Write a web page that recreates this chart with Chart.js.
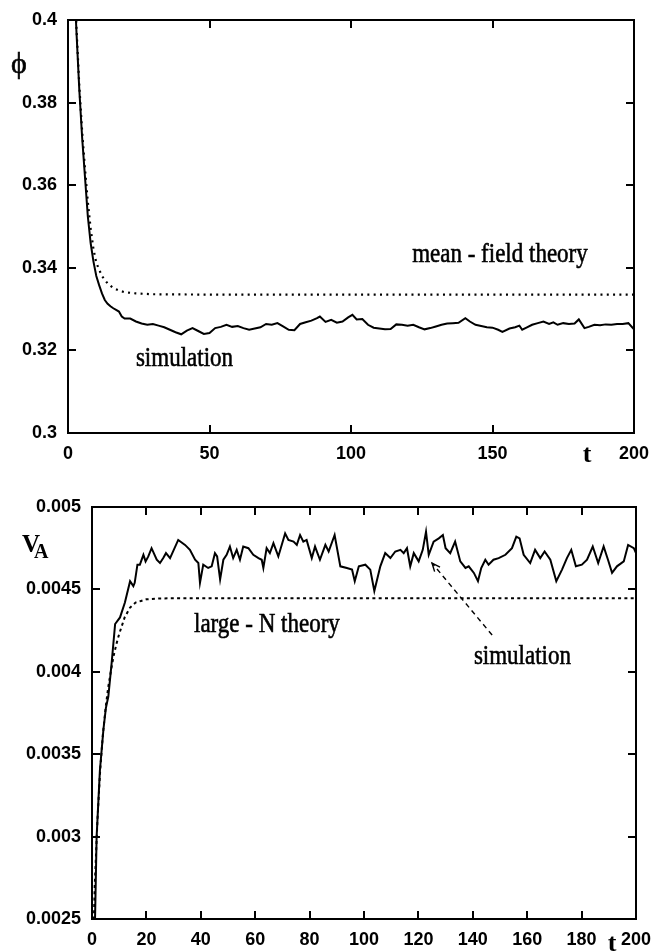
<!DOCTYPE html>
<html>
<head>
<meta charset="utf-8">
<script src="https://cdn.jsdelivr.net/npm/chart.js@4.4.1/dist/chart.umd.min.js"></script>
<style>
  html, body { margin: 0; padding: 0; background: #fff; }
  canvas { display: block; }
</style>
</head>
<body>
<canvas id="phiChart" width="652" height="470"></canvas>
<canvas id="vaChart" width="652" height="482"></canvas>
<script>
// ---- phi(t): simulation vs mean-field theory ----
const phiSimT = [1, 2, 3, 4, 5, 6, 7, 8, 9, 10, 11, 12, 13, 14, 15, 16, 17, 18, 19, 20,
  22, 24, 26, 28, 30, 32, 34, 36, 38, 40, 42, 44, 46, 48, 50, 52, 54, 56, 58, 60,
  62, 64, 66, 68, 70, 72, 74, 76, 78, 80, 82, 84, 86, 88, 89, 91, 93, 95, 97, 99,
  100.5, 102, 104, 106, 108, 110, 112, 114, 116, 118, 120, 122, 124, 126, 128, 130,
  132, 134, 136, 138, 140.4, 142, 144, 146, 148, 150, 152, 153.5, 156, 158, 159.5,
  160.5, 162, 164, 166, 168, 170, 171.5, 173, 175, 177, 179, 180.5, 182.5, 184, 186,
  188, 190, 192, 194, 196, 198, 200];
const phiSim = [0.43, 0.412, 0.397, 0.383, 0.3715, 0.362, 0.3525, 0.346, 0.3415, 0.338,
  0.3358, 0.3338, 0.3322, 0.3313, 0.3307, 0.3302, 0.3298, 0.3294, 0.3282, 0.3277,
  0.3277, 0.3270, 0.3265, 0.3262, 0.3264, 0.3260, 0.3256, 0.3250, 0.3244, 0.3239,
  0.3248, 0.3254, 0.3247, 0.3240, 0.3242, 0.3254, 0.3257, 0.3262, 0.3257, 0.3259,
  0.3254, 0.3250, 0.3253, 0.3256, 0.3264, 0.3262, 0.3266, 0.3258, 0.3250, 0.3249,
  0.3264, 0.3268, 0.3272, 0.3278, 0.3282, 0.3269, 0.3274, 0.3267, 0.3270, 0.3280,
  0.3286, 0.3275, 0.3276, 0.3262, 0.3255, 0.3253, 0.3251, 0.3252, 0.3263, 0.3262,
  0.3260, 0.3262, 0.3256, 0.3251, 0.3254, 0.3258, 0.3262, 0.3265, 0.3266, 0.3267,
  0.3278, 0.3270, 0.3262, 0.3259, 0.3256, 0.3255, 0.3250, 0.3245, 0.3253, 0.3256,
  0.3260, 0.3250, 0.3255, 0.3262, 0.3266, 0.3270, 0.3264, 0.3268, 0.3262, 0.3266,
  0.3264, 0.3265, 0.3275, 0.3254, 0.3257, 0.3262, 0.3261, 0.3263, 0.3262, 0.3264,
  0.3264, 0.3266, 0.3251];
const phiMfT = [0, 1, 2, 3, 4, 5, 6, 7, 8, 9, 10, 12, 14, 16, 18, 20, 24, 30, 50, 100, 150, 200];
const phiMf = [0.47, 0.445, 0.418, 0.398, 0.384, 0.373, 0.364, 0.356, 0.3495, 0.3445, 0.3412,
  0.338, 0.3362, 0.3351, 0.3345, 0.3341, 0.3338, 0.3336, 0.3335, 0.3335, 0.3335, 0.3335];
const phiXTicks = [0, 50, 100, 150, 200];
const phiXLabels = ['0', '50', '100', '150', '200'];
const phiYTicks = [0.3, 0.32, 0.34, 0.36, 0.38, 0.4];
const phiYLabels = ['0.3', '0.32', '0.34', '0.36', '0.38', '0.4'];

// ---- V_A(t): simulation vs large-N theory ----
const vaSimT = [1, 1.7, 2.9, 4.2, 5.1, 6, 7.2, 8.5, 10.3, 12.1, 14, 15.2, 15.7, 16.7, 17.6,
  18.9, 19.7, 20.7, 21.9, 23.8, 25, 26.2, 27.2, 28.7, 31.7, 34.2, 36, 37.9, 39.1, 39.7,
  40.9, 42.7, 44, 45.2, 46, 47.1, 48.3, 49.5, 50.7, 51.9, 53.2, 54.4, 55.6, 57.5, 59.3,
  61.2, 62.4, 63, 64.2, 65.4, 66.7, 68.5, 71, 72.2, 74.1, 75.3, 76.5, 77.7, 78.9, 80.8,
  82, 83.8, 85.8, 87, 89.2, 91.3, 93.7, 95.6, 96.6, 98.1, 100.5, 102.3, 103.8, 106,
  107.8, 109.7, 111.5, 113.4, 114.6, 115.8, 117, 118.3, 120.1, 121.6, 122.8, 123.8,
  125.6, 127.5, 129, 130, 131.7, 133.5, 135.4, 137.3, 138.5, 140.4, 141.9, 143.1, 144.6,
  145.8, 147.6, 149.5, 152, 154.4, 156, 157.2, 158.7, 161.1, 162.9, 164.8, 166.4, 168.5,
  170.7, 172.8, 174.6, 176.2, 177.9, 180.1, 182, 184.1, 186.1, 188.1, 189.7, 191.2, 193,
  195.5, 197.1, 199.2, 200];
const vaSim = [0.0024, 0.0030, 0.0034, 0.00365, 0.00378, 0.00385, 0.00405, 0.00429, 0.00433,
  0.00442, 0.00455, 0.00452, 0.00454, 0.00465, 0.00465, 0.00471, 0.00467, 0.0047, 0.00475,
  0.00468, 0.00466, 0.00469, 0.00472, 0.00469, 0.0048, 0.00477, 0.00474, 0.00468, 0.00466,
  0.00454, 0.00465, 0.00463, 0.00464, 0.00472, 0.0047, 0.00456, 0.00468, 0.00471, 0.00476,
  0.00469, 0.00474, 0.00468, 0.00476, 0.00475, 0.00471, 0.00469, 0.00468, 0.00463, 0.00475,
  0.00472, 0.00478, 0.0047, 0.00484, 0.0048, 0.00479, 0.00477, 0.00483, 0.00479, 0.0048,
  0.00469, 0.00476, 0.00468, 0.00477, 0.00473, 0.00483, 0.00464, 0.00463, 0.00462, 0.00455,
  0.00464, 0.00465, 0.00462, 0.00449, 0.00464, 0.00472, 0.00469, 0.00473, 0.00474, 0.00472,
  0.00475, 0.00464, 0.00472, 0.00467, 0.00474, 0.00485, 0.00471, 0.00479, 0.00481, 0.00483,
  0.00475, 0.00472, 0.00479, 0.00467, 0.00463, 0.00464, 0.0046, 0.00455, 0.00463, 0.00468,
  0.00465, 0.00468, 0.00469, 0.00471, 0.00475, 0.00482, 0.00481, 0.00471, 0.00466, 0.00474,
  0.00469, 0.00473, 0.00468, 0.00455, 0.00462, 0.00469, 0.00474, 0.00464, 0.00465, 0.00468,
  0.00476, 0.00466, 0.00476, 0.00468, 0.0046, 0.00464, 0.00467, 0.00477, 0.00475, 0.00472];
const vaThT = [0, 1, 2, 3, 4, 5, 6, 7, 8, 9, 10, 12, 14, 16, 18, 20, 25, 30, 50, 100, 150, 200];
const vaTh = [0.0020, 0.0027, 0.0031, 0.0034, 0.00362, 0.00378, 0.00391, 0.00401, 0.0041,
  0.00417, 0.00423, 0.00433, 0.00439, 0.00442, 0.00443, 0.00444, 0.004445, 0.004446,
  0.004446, 0.004446, 0.004446, 0.004446];
const vaXTicks = [0, 20, 40, 60, 80, 100, 120, 140, 160, 180, 200];
const vaXLabels = ['0', '20', '40', '60', '80', '100', '120', '140', '160', '180', '200'];
const vaYTicks = [0.0025, 0.003, 0.0035, 0.004, 0.0045, 0.005];
const vaYLabels = ['0.0025', '0.003', '0.0035', '0.004', '0.0045', '0.005'];

const pairs = (xs, ys) => xs.map((x, i) => ({ x: x, y: ys[i] }));

// frame with inward ticks on all four sides
const frameTicks = {
  id: 'frameTicks',
  afterDatasetsDraw(chart) {
    const { ctx, chartArea: a, scales: { x, y } } = chart;
    const len = 8;
    ctx.save();
    ctx.strokeStyle = '#000';
    ctx.lineWidth = 2;
    ctx.beginPath();
    x.ticks.forEach(t => {
      const px = Math.round(x.getPixelForValue(t.value));
      ctx.moveTo(px, a.bottom); ctx.lineTo(px, a.bottom - len);
      ctx.moveTo(px, a.top); ctx.lineTo(px, a.top + len);
    });
    y.ticks.forEach(t => {
      const py = Math.round(y.getPixelForValue(t.value));
      ctx.moveTo(a.left, py); ctx.lineTo(a.left + len, py);
      ctx.moveTo(a.right, py); ctx.lineTo(a.right - len, py);
    });
    ctx.stroke();
    ctx.strokeRect(a.left, a.top, a.right - a.left, a.bottom - a.top);
    ctx.restore();
  }
};

// free text, axis symbols and the dashed pointer arrow
const notes = {
  id: 'notes',
  afterDraw(chart, args, opts) {
    const { ctx, scales: { x, y } } = chart;
    ctx.save();
    ctx.fillStyle = '#000';
    ctx.strokeStyle = '#000';
    ctx.textBaseline = 'alphabetic';
    (opts.texts || []).forEach(n => {
      const px = n.px !== undefined ? n.px : x.getPixelForValue(n.x);
      const py = n.py !== undefined ? n.py : y.getPixelForValue(n.y);
      ctx.save();
      ctx.font = n.font;
      ctx.textAlign = n.align || 'left';
      ctx.translate(px, py);
      ctx.scale(1, n.sy || 1);
      ctx.fillText(n.text, 0, 0);
      if (n.heavy) {
        ctx.lineWidth = n.heavy;
        ctx.strokeText(n.text, 0, 0);
      }
      ctx.restore();
    });
    (opts.arrows || []).forEach(ar => {
      const x0 = x.getPixelForValue(ar.from[0]), y0 = y.getPixelForValue(ar.from[1]);
      const x1 = x.getPixelForValue(ar.to[0]), y1 = y.getPixelForValue(ar.to[1]);
      ctx.lineWidth = 1.4;
      ctx.setLineDash([5, 4]);
      ctx.beginPath();
      ctx.moveTo(x0, y0); ctx.lineTo(x1, y1);
      ctx.stroke();
      ctx.setLineDash([]);
      const ang = Math.atan2(y1 - y0, x1 - x0);
      const hl = 9, spread = 0.4;
      ctx.beginPath();
      ctx.moveTo(x1 - hl * Math.cos(ang - spread), y1 - hl * Math.sin(ang - spread));
      ctx.lineTo(x1, y1);
      ctx.lineTo(x1 - hl * Math.cos(ang + spread), y1 - hl * Math.sin(ang + spread));
      ctx.stroke();
    });
    ctx.restore();
  }
};

const tickFont = { family: 'Liberation Sans', weight: 'bold', size: 18 };
const serif = 'Liberation Serif';

function axes(xMin, xMax, xTicks, xLabels, yMin, yMax, yTicks, yLabels, yWidth, xHeight) {
  return {
    x: {
      type: 'linear', min: xMin, max: xMax,
      grid: { display: false, drawTicks: false }, border: { display: false },
      afterBuildTicks: s => { s.ticks = xTicks.map(v => ({ value: v })); },
      afterFit: s => { s.height = xHeight; s.paddingLeft = 0; s.paddingRight = 0; },
      ticks: {
        color: '#000', font: tickFont, padding: 10, maxRotation: 0,
        callback: v => xLabels[xTicks.indexOf(v)]
      }
    },
    y: {
      type: 'linear', min: yMin, max: yMax,
      grid: { display: false, drawTicks: false }, border: { display: false },
      afterBuildTicks: s => { s.ticks = yTicks.map(v => ({ value: v })); },
      afterFit: s => { s.width = yWidth; s.paddingTop = 0; s.paddingBottom = 0; },
      ticks: {
        color: '#000', font: tickFont, padding: 11,
        callback: v => yLabels[yTicks.indexOf(v)]
      }
    }
  };
}

const baseOpts = {
  responsive: false,
  animation: false,
  devicePixelRatio: 1,
  elements: { point: { radius: 0 }, line: { tension: 0 } },
  events: []
};

new Chart(document.getElementById('phiChart'), {
  type: 'line',
  data: {
    datasets: [
      { label: 'simulation', data: pairs(phiSimT, phiSim), borderColor: '#000', borderWidth: 2 },
      { label: 'mean-field theory', data: pairs(phiMfT, phiMf), borderColor: '#000',
        borderWidth: 2.2, borderDash: [2, 4.3] }
    ]
  },
  options: Object.assign({}, baseOpts, {
    layout: { padding: { left: 0, top: 20, right: 18, bottom: 0 } },
    scales: axes(0, 200, phiXTicks, phiXLabels, 0.3, 0.4, phiYTicks, phiYLabels, 68, 37),
    plugins: {
      legend: { display: false },
      tooltip: { enabled: false },
      notes: {
        texts: [
          { text: 'mean - field theory', x: 121.6, y: 0.3414, font: '23px ' + serif, sy: 1.15, heavy: 0.5 },
          { text: 'simulation', x: 24, y: 0.3163, font: '23px ' + serif, sy: 1.15, heavy: 0.5 },
          { text: 'ϕ', px: 19, py: 73, font: '30px ' + serif, align: 'center', heavy: 0.6 },
          { text: 't', px: 587, py: 462, font: 'bold 26px ' + serif, align: 'center' }
        ]
      }
    }
  }),
  plugins: [frameTicks, notes]
});

new Chart(document.getElementById('vaChart'), {
  type: 'line',
  data: {
    datasets: [
      { label: 'simulation', data: pairs(vaSimT, vaSim), borderColor: '#000', borderWidth: 2 },
      { label: 'large-N theory', data: pairs(vaThT, vaTh), borderColor: '#000',
        borderWidth: 2, borderDash: [3, 3.3] }
    ]
  },
  options: Object.assign({}, baseOpts, {
    layout: { padding: { left: 0, top: 37, right: 16, bottom: 0 } },
    scales: axes(0, 200, vaXTicks, vaXLabels, 0.0025, 0.005, vaYTicks, vaYLabels, 92, 33),
    plugins: {
      legend: { display: false },
      tooltip: { enabled: false },
      notes: {
        texts: [
          { text: 'large - N theory', x: 37.5, y: 0.004241, font: '23px ' + serif, sy: 1.15, heavy: 0.5 },
          { text: 'simulation', x: 140.4, y: 0.004047, font: '23px ' + serif, sy: 1.15, heavy: 0.5 },
          { text: 'V', px: 22, py: 82, font: 'bold 25px ' + serif },
          { text: 'A', px: 34, py: 88, font: 'bold 20px ' + serif },
          { text: 't', px: 612, py: 481, font: 'bold 26px ' + serif, align: 'center' }
        ],
        arrows: [ { from: [147.1, 0.004223], to: [125, 0.00466] } ]
      }
    }
  }),
  plugins: [frameTicks, notes]
});
</script>
</body>
</html>
